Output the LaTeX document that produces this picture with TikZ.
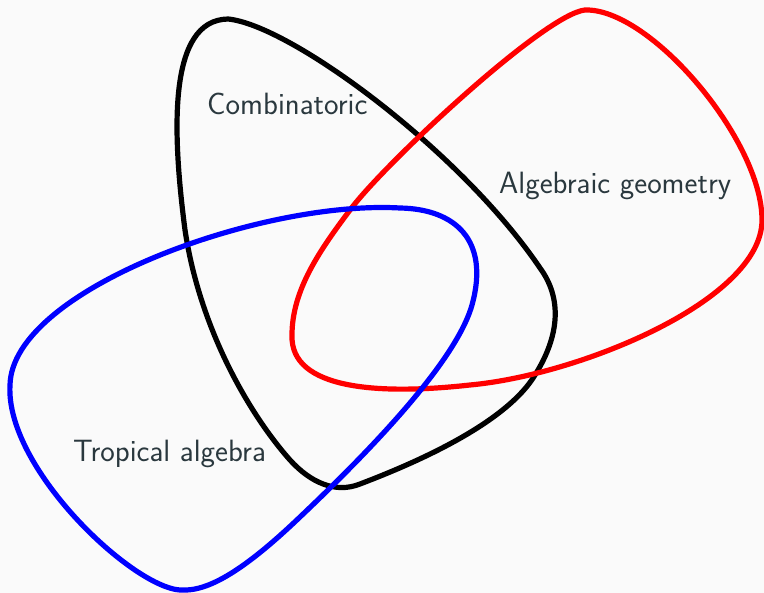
\documentclass[tikz,border=0pt]{standalone}
\usepackage{fontspec}
\usepackage{tikz}
\usepackage{xcolor}

\definecolor{bggray}{RGB}{250,250,250}
\definecolor{textgray}{RGB}{42,56,62}

\begin{document}
\begin{tikzpicture}[x=1pt,y=-1pt,
    curve/.style={line width=5.2pt,line join=round},
    lbl/.style={anchor=base west,inner sep=0pt,text=textgray,
        font=\sffamily\fontsize{30.8}{36}\selectfont}]
        % 背景与边界
        \fill[bggray] (0,0) rectangle (764,593);
        \useasboundingbox (0,0) rectangle (764,593);

        % 黑色区域
        \draw[curve,black] (228,19) .. controls (290,25) and (460,150) .. (540,268)
            .. controls (562,298) and (560,335) .. (535,375)
            .. controls (505,425) and (410,465) .. (360,484)
            .. controls (335,494) and (310,482) .. (290,460)
            .. controls (250,415) and (200,330) .. (185,230)
            .. controls (172,130) and (168,20) .. cycle;

        % 红色区域
        \draw[curve,red] (585,10) .. controls (650,8) and (762,140) .. (762,220)
            .. controls (762,300) and (580,375) .. (470,385)
            .. controls (380,395) and (290,390) .. (292,335)
            .. controls (292,290) and (320,250) .. (350,210)
            .. controls (385,163) and (545,14) .. cycle;

        % 蓝色区域
        \draw[curve,blue] (400,208) .. controls (455,209) and (490,240) .. (472,305)
            .. controls (455,365) and (360,460) .. (300,517)
            .. controls (255,560) and (215,590) .. (185,590)
            .. controls (140,595) and (5,470) .. (10,385)
            .. controls (12,290) and (260,200) .. cycle;

        % 标注
        \node[lbl] (comb) at (207,115) {Combinatoric};
        \node[lbl] (alg) at (499,194) {Algebraic geometry};
        \node[lbl] (trop) at (73,462) {Tropical algebra};
\end{tikzpicture}
\end{document}
